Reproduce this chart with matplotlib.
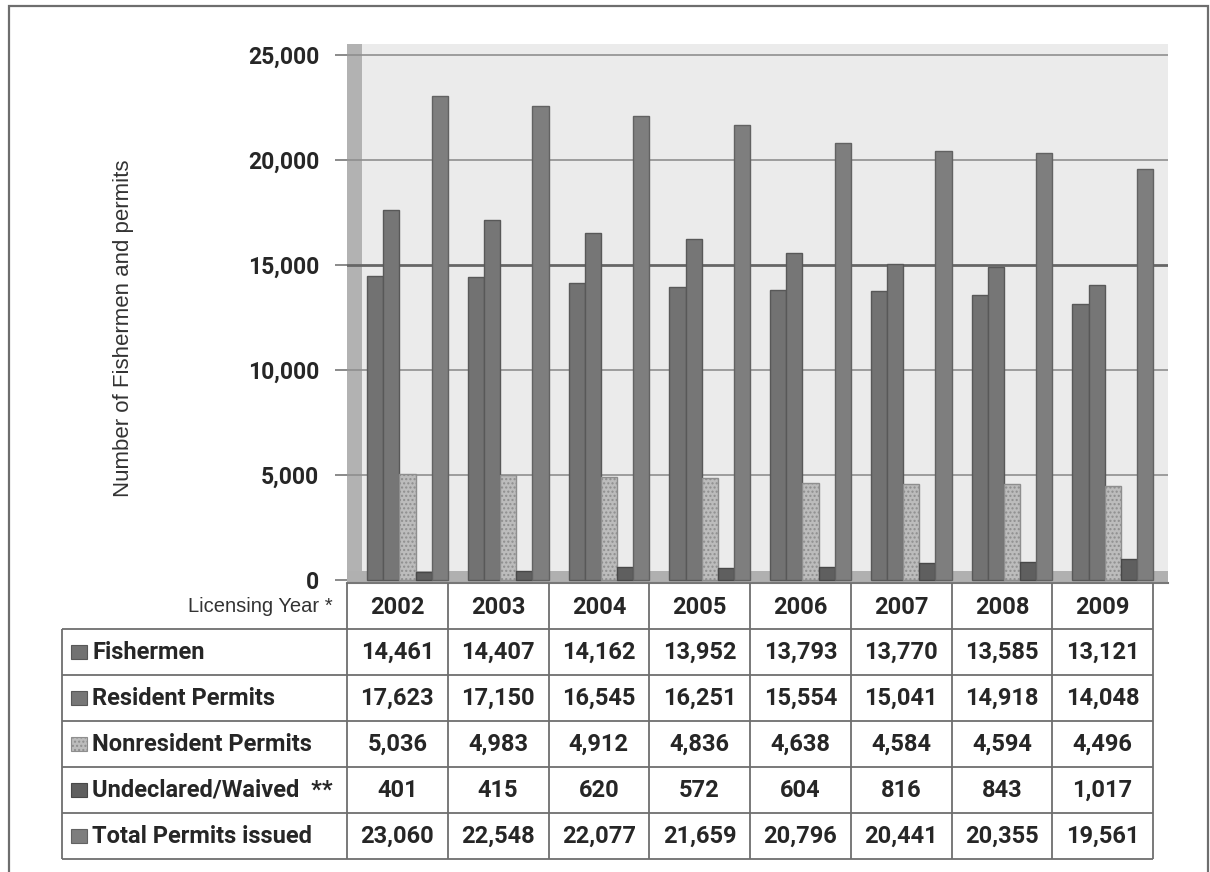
import matplotlib
matplotlib.use("Agg")
import matplotlib.pyplot as plt
from matplotlib.patches import Rectangle
import numpy as np

W, H = 1210, 872

years = ["2002", "2003", "2004", "2005", "2006", "2007", "2008", "2009"]
series_names = ["Fishermen", "Resident Permits", "Nonresident Permits",
                "Undeclared/Waived  **", "Total Permits issued"]
fishermen = [14461, 14407, 14162, 13952, 13793, 13770, 13585, 13121]
resident = [17623, 17150, 16545, 16251, 15554, 15041, 14918, 14048]
nonresident = [5036, 4983, 4912, 4836, 4638, 4584, 4594, 4496]
undeclared = [401, 415, 620, 572, 604, 816, 843, 1017]
total = [23060, 22548, 22077, 21659, 20796, 20441, 20355, 19561]
yticks = [0, 5000, 10000, 15000, 20000, 25000]

series = [fishermen, resident, nonresident, undeclared, total]
colors = ["#727272", "#767676", "#bcbcbc", "#5f5f5f", "#7e7e7e"]
edges = ["#585858", "#585858", "#8e8e8e", "#484848", "#626262"]

NUM_FONT = "Roboto"
TXT_FONT = "Liberation Sans"
INK = "#262626"


def px_axes(fig, x0, y0, x1, y1):
    return fig.add_axes([x0 / W, 1 - y1 / H, (x1 - x0) / W, (y1 - y0) / H])


fig = plt.figure(figsize=(W / 100, H / 100), dpi=100)
fig.patch.set_facecolor("white")

# outer frame (runs off the bottom of the picture like the scan)
fig.patches.append(Rectangle((9 / W, -0.02), (1208 - 9) / W, 1 - 6 / H + 0.02,
                             transform=fig.transFigure, fill=False,
                             edgecolor="#6e6e6e", lw=1.6))

# ---- chart ----
col_px = (1153 - 347) / len(years)          # pixels per year column
px_per_unit = (580 - 55) / 25000.0
ax = px_axes(fig, 347, 580 - 25500 * px_per_unit, 1168, 583)
ax.set_xlim(0, (1168 - 347) / col_px)
ax.set_ylim(-3 / px_per_unit, 25500)
ax.set_facecolor("#ebebeb")

# side wall and floor
ax.axvspan(0, 15 / col_px, color="#b2b2b2", zorder=1, lw=0)
ax.axhspan(ax.get_ylim()[0], 450, color="#b0b0b0", zorder=1, lw=0)
for v in yticks[1:]:
    ax.axhline(v, color="#666666" if v == 15000 else "#8f8f8f",
               lw=2.0 if v == 15000 else 1.2, zorder=2)

x = np.arange(len(years))
bw = 0.16
for k, (vals, c, ec) in enumerate(zip(series, colors, edges)):
    ax.bar(x + 0.28 + k * bw, vals, width=bw, color=c, edgecolor=ec,
           lw=1.0, zorder=3, hatch="...." if k == 2 else None)

ax.set_yticks(yticks)
ax.set_yticklabels([f"{v:,}" for v in yticks], fontfamily=NUM_FONT,
                   fontweight="bold", fontsize=16.5, color=INK)
ax.tick_params(axis="y", length=9, width=1.2, color="#777777", pad=11)
ax.set_xticks([])
for s in ["top", "right", "left"]:
    ax.spines[s].set_visible(False)
ax.spines["bottom"].set_color("#777777")
ax.spines["bottom"].set_linewidth(1.5)

fig.text(123 / W, 1 - 328 / H, "Number of Fishermen and permits",
         rotation=90, ha="center", va="center", fontfamily=TXT_FONT,
         fontsize=16, color="#333333")

# ---- data table ----
lab_w = (347 - 62) / col_px
tax = px_axes(fig, 62, 583, 1153, 859)
tax.set_xlim(-lab_w, len(years))
tax.set_ylim(len(series) + 1, 0)
tax.axis("off")

line_kw = dict(color="#6e6e6e", lw=1.3, clip_on=False)
tax.vlines(np.arange(len(years) + 1), 0, len(series) + 1, **line_kw)
tax.vlines(-lab_w, 1, len(series) + 1, **line_kw)
tax.hlines(np.arange(1, len(series) + 2), -lab_w, len(years), **line_kw)

num_kw = dict(fontfamily=NUM_FONT, fontweight="bold", fontsize=17,
              color=INK, ha="center", va="center")
tax.text(-0.14, 0.5, "Licensing Year *", ha="right", va="center",
         fontfamily=TXT_FONT, fontsize=14.5, color="#333333")
for j, yr in enumerate(years):
    tax.text(j + 0.5, 0.53, yr, **num_kw)

for i, (name, vals, c) in enumerate(zip(series_names, series, colors)):
    row = i + 1.5
    tax.add_patch(Rectangle((-lab_w + 9 / col_px, row - 0.15), 16 / col_px, 0.3,
                            facecolor=c, edgecolor=edges[i], lw=0.8,
                            hatch="...." if i == 2 else None))
    tax.text(-lab_w + 30 / col_px, row, name, ha="left", va="center",
             fontfamily=NUM_FONT, fontweight="bold", fontsize=17, color=INK)
    for j, v in enumerate(vals):
        tax.text(j + 0.5, row, f"{v:,}", **num_kw)

fig.savefig("out.png", dpi=100)
